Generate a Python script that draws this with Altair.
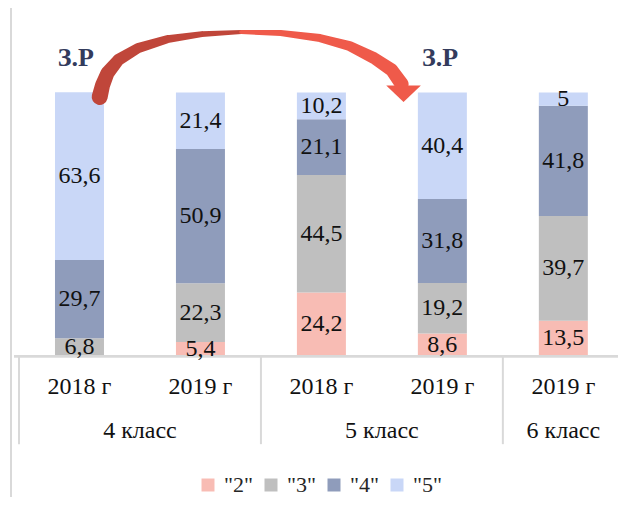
import altair as alt
import pandas as pd

# ---- data ----
years = ["2018 г", "2019 г", "2018 г", "2019 г", "2019 г"]
groups = ["4 класс", "4 класс", "5 класс", "5 класс", "6 класс"]
grades = ['"2"', '"3"', '"4"', '"5"']
v2 = [0, 5.4, 24.2, 8.6, 13.5]
v3 = [6.8, 22.3, 44.5, 19.2, 39.7]
v4 = [29.7, 50.9, 21.1, 31.8, 41.8]
v5 = [63.6, 21.4, 10.2, 40.4, 5]
colors = ["#F8BCB4", "#BFBFBF", "#8F9CBB", "#C9D7F7"]
mark_labels = ["З.Р", "З.Р"]
mark_pos = [-0.03, 2.98]

series = [v2, v3, v4, v5]
rows = []
for gi, (g, vals) in enumerate(zip(grades, series)):
    for i, v in enumerate(vals):
        rows.append({"pos": i, "grade": g, "order": gi, "value": v,
                     "label": f"{v:g}".replace(".", ",")})
df = pd.DataFrame(rows)
ticks = pd.DataFrame({"pos": list(range(len(years))), "year": years, "group": groups})

# ---- annotation arrow (in data units: category index / percent) ----
arrow_x = [0.167, 0.191, 0.232, 0.321, 0.484, 0.728, 1.012, 1.337,
           1.337, 1.663, 1.988, 2.232, 2.435, 2.581, 2.663]
arrow_y = [98.3, 102.8, 107.4, 112.3, 116.8, 120.2, 122.1, 122.9,
           122.9, 122.5, 120.6, 117.6, 113.0, 108.5, 103.2]
arrow_w = [16, 15, 14, 12, 10, 8, 6, 4, 4, 6, 8, 10, 12, 13, 14]
arrow_c = ["#C0463A"] * 8 + ["#EF5A4A"] * 7
arrow = pd.DataFrame({"x": arrow_x, "y": arrow_y, "w": arrow_w, "c": arrow_c,
                      "i": list(range(len(arrow_x)))})

FONT = "Liberation Serif"
W, H = 604, 438
xs = alt.Scale(domain=[-0.5, -0.5 + W / 123.0], nice=False, zero=False)
ys = alt.Scale(domain=[-34, 132], nice=False, zero=False)

base = alt.Chart(df).transform_stack(
    stack="value", groupby=["pos"], as_=["y0", "y1"],
    sort=[alt.SortField("order", order="ascending")]
)

bars = base.mark_bar(size=49).encode(
    x=alt.X("pos:Q", scale=xs, axis=None),
    y=alt.Y("y0:Q", scale=ys, axis=None),
    y2="y1:Q",
    color=alt.Color("grade:N", scale=alt.Scale(domain=grades, range=colors),
                    legend=alt.Legend(title=None, orient="none", legendX=183, legendY=466,
                                      direction="horizontal", symbolType="square",
                                      symbolSize=169, symbolStrokeWidth=0,
                                      labelFont=FONT, labelFontSize=22, labelColor="#262626",
                                      labelOffset=5, columnPadding=7, padding=0,
                                      labelLimit=0)),
)

labels = base.transform_filter("datum.value > 0").transform_calculate(
    mid="(datum.y0 + datum.y1) / 2"
).mark_text(font=FONT, fontSize=24, color="#111111", baseline="middle").encode(
    x=alt.X("pos:Q"), y=alt.Y("mid:Q"), text="label:N"
)

axis_line = alt.Chart(ticks).transform_calculate(zy="0").mark_rule(
    color="#D9D9D9", strokeWidth=2
).encode(x=alt.value(0), x2=alt.value(W), y=alt.Y("zy:Q"))

seps = alt.Chart(ticks).transform_aggregate(
    mn="min(pos)", groupby=["group"]
).transform_calculate(sx="datum.mn - 0.5", sy0="0", sy1="-33.3").mark_rule(
    color="#D9D9D9", strokeWidth=2
).encode(x=alt.X("sx:Q"), y=alt.Y("sy0:Q"), y2="sy1:Q")

year_txt = alt.Chart(ticks).transform_calculate(ty="-11.6").mark_text(
    font=FONT, fontSize=24, color="#111111", baseline="middle"
).encode(x=alt.X("pos:Q"), y=alt.Y("ty:Q"), text="year:N")

group_txt = alt.Chart(ticks).transform_aggregate(
    mp="mean(pos)", groupby=["group"]
).transform_calculate(gy="-28.4").mark_text(
    font=FONT, fontSize=24, color="#111111", baseline="middle"
).encode(x=alt.X("mp:Q"), y=alt.Y("gy:Q"), text="group:N")

border = alt.Chart(ticks).mark_rule(color="#D9D9D9", strokeWidth=2).encode(
    x=alt.value(-3), y=alt.value(0), y2=alt.value(489)
)

trail = alt.Chart(arrow).mark_trail().encode(
    x=alt.X("x:Q"), y=alt.Y("y:Q"),
    size=alt.Size("w:Q", scale=None, legend=None),
    color=alt.Color("c:N", scale=None), order="i:Q"
)

head_df = pd.DataFrame({"x": [2.679], "y": [99.5]})
head = alt.Chart(head_df).mark_point(
    shape="M -1 -0.47 L 1 -0.47 L 0 0.47 Z", filled=True, size=1200,
    color="#EF5A4A", opacity=1, strokeWidth=0
).encode(x=alt.X("x:Q"), y=alt.Y("y:Q"))

zr_df = pd.DataFrame({"x": mark_pos, "t": mark_labels})
zr = alt.Chart(zr_df).transform_calculate(zy="113.1").mark_text(
    font=FONT, fontSize=26, fontWeight="bold", color="#333B5C", baseline="middle"
).encode(x=alt.X("x:Q"), y=alt.Y("zy:Q"), text="t:N")

chart = alt.layer(bars, border, axis_line, seps, labels, year_txt, group_txt,
                  trail, head, zr).properties(
    width=W, height=H,
    autosize=alt.AutoSizeParams(type="none"),
    padding={"left": 6, "right": 0, "top": 0, "bottom": 51}
).configure_view(stroke=None)

chart.save("out.html", embed_options={"renderer": "svg", "actions": False})
